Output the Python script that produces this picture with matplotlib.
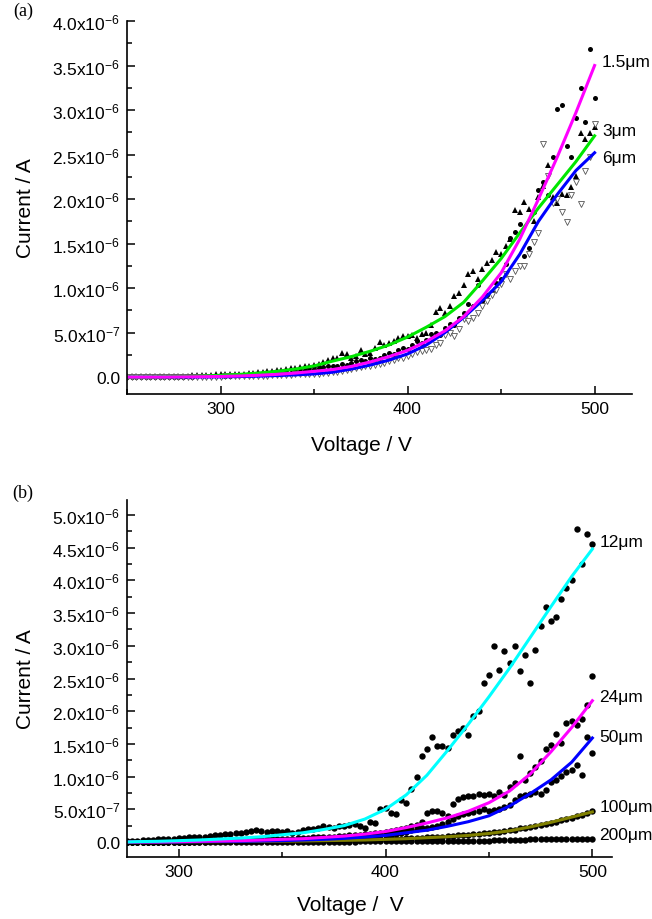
import numpy as np
import matplotlib
matplotlib.use('Agg')
import matplotlib.pyplot as plt
from matplotlib.ticker import MultipleLocator, FuncFormatter

plt.rcParams['font.family'] = ['Liberation Sans', 'DejaVu Sans']
plt.rcParams['mathtext.default'] = 'regular'

# ---- panel (a): measured current (in 1e-6 A), every 2.5 V from 250 to 500 V
volt_a = np.arange(250, 500.1, 2.5)

cur_1p5um = [
    0.00, 0.00, 0.00, 0.00, 0.00, 0.00, 0.00, 0.00, 0.00, 0.00,
    0.00, 0.00, 0.00, 0.01, 0.00, 0.01, 0.01, 0.01, 0.01, 0.01,
    0.01, 0.01, 0.01, 0.02, 0.02, 0.02, 0.02, 0.03, 0.03, 0.03,
    0.03, 0.04, 0.04, 0.05, 0.05, 0.05, 0.06, 0.07, 0.08, 0.08,
    0.09, 0.10, 0.11, 0.12, 0.12, 0.13, 0.15, 0.14, 0.16, 0.18,
    0.19, 0.18, 0.21, 0.20, 0.22, 0.25, 0.27, 0.26, 0.30, 0.33,
    0.31, 0.36, 0.40, 0.38, 0.42, 0.48, 0.50, 0.47, 0.55, 0.60,
    0.58, 0.66, 0.72, 0.82, 0.80, 1.03, 0.86, 0.92, 0.96, 1.06,
    1.10, 1.27, 1.56, 1.63, 1.72, 1.36, 1.45, 1.85, 2.10, 2.19,
    2.05, 2.47, 3.01, 3.06, 2.60, 2.47, 2.91, 3.25, 2.86, 3.69, 3.14]

cur_3um = [
    0.01, 0.01, 0.01, 0.01, 0.01, 0.01, 0.01, 0.01, 0.01, 0.01,
    0.01, 0.01, 0.01, 0.01, 0.02, 0.02, 0.02, 0.02, 0.02, 0.03,
    0.03, 0.03, 0.03, 0.04, 0.04, 0.04, 0.05, 0.05, 0.06, 0.06,
    0.07, 0.07, 0.08, 0.08, 0.09, 0.10, 0.10, 0.11, 0.12, 0.13,
    0.14, 0.15, 0.17, 0.19, 0.21, 0.22, 0.27, 0.26, 0.21, 0.24,
    0.30, 0.26, 0.27, 0.33, 0.39, 0.36, 0.38, 0.41, 0.44, 0.46,
    0.46, 0.47, 0.44, 0.48, 0.50, 0.58, 0.73, 0.78, 0.72, 0.80,
    0.91, 0.95, 1.04, 1.16, 1.19, 1.10, 1.21, 1.28, 1.32, 1.40,
    1.38, 1.47, 1.55, 1.88, 1.85, 1.97, 1.89, 1.75, 2.02, 2.15,
    2.38, 2.02, 1.96, 2.06, 2.05, 2.14, 2.26, 2.74, 2.67, 2.74, 2.81]

cur_6um = [
    0.00, 0.00, 0.00, 0.00, 0.00, 0.00, 0.00, 0.00, 0.00, 0.00,
    0.00, 0.00, 0.00, 0.00, 0.00, 0.00, 0.00, 0.00, 0.00, 0.00,
    0.00, 0.01, 0.01, 0.01, 0.01, 0.01, 0.01, 0.01, 0.01, 0.01,
    0.01, 0.02, 0.02, 0.02, 0.02, 0.02, 0.03, 0.03, 0.03, 0.04,
    0.04, 0.04, 0.05, 0.05, 0.06, 0.06, 0.07, 0.08, 0.09, 0.10,
    0.11, 0.12, 0.13, 0.14, 0.15, 0.16, 0.18, 0.19, 0.21, 0.22,
    0.24, 0.26, 0.28, 0.29, 0.30, 0.31, 0.36, 0.38, 0.47, 0.50,
    0.46, 0.54, 0.65, 0.63, 0.66, 0.72, 0.80, 0.85, 0.92, 0.98,
    1.05, 1.16, 1.10, 1.19, 1.25, 1.25, 1.38, 1.52, 1.62, 2.62,
    2.26, 1.95, 2.00, 1.85, 1.74, 2.04, 2.19, 1.94, 2.31, 2.47, 2.84]

# fitted curves (a), read every 10 V
fit_volt_a = np.arange(250, 500.1, 10)
fit_1p5um = [0.0, 0.0, 0.0, 0.002, 0.004, 0.007, 0.012, 0.02, 0.03, 0.045,
             0.065, 0.085, 0.12, 0.17, 0.23, 0.30, 0.40, 0.52, 0.68, 0.90,
             1.17, 1.55, 2.00, 2.47, 2.97, 3.50]
fit_3um = [0.0, 0.0, 0.002, 0.005, 0.01, 0.02, 0.03, 0.045, 0.065, 0.09,
           0.125, 0.18, 0.23, 0.29, 0.36, 0.45, 0.56, 0.68, 0.84, 1.08,
           1.33, 1.62, 1.90, 2.16, 2.42, 2.71]
fit_6um = [0.0, 0.0, 0.0, 0.001, 0.002, 0.003, 0.006, 0.01, 0.017, 0.025,
           0.035, 0.055, 0.09, 0.135, 0.19, 0.26, 0.36, 0.50, 0.67, 0.86,
           1.07, 1.38, 1.75, 2.05, 2.32, 2.52]

# ---- panel (b): measured current (in 1e-6 A), every 2.5 V from 275 to 500 V
volt_b = np.arange(275, 500.1, 2.5)

cur_12um = [
    0.02, 0.02, 0.02, 0.03, 0.03, 0.03, 0.04, 0.04, 0.05, 0.05,
    0.06, 0.06, 0.07, 0.07, 0.08, 0.08, 0.09, 0.10, 0.11, 0.12,
    0.12, 0.13, 0.14, 0.15, 0.17, 0.19, 0.17, 0.16, 0.17, 0.17,
    0.16, 0.17, 0.14, 0.16, 0.19, 0.20, 0.20, 0.22, 0.24, 0.23,
    0.21, 0.24, 0.25, 0.26, 0.27, 0.24, 0.21, 0.31, 0.29, 0.50,
    0.52, 0.45, 0.43, 0.64, 0.59, 0.81, 1.00, 1.31, 1.42, 1.61,
    1.47, 1.47, 1.43, 1.64, 1.69, 1.75, 1.64, 1.92, 2.01, 2.43,
    2.56, 2.99, 2.63, 2.92, 2.73, 2.99, 2.61, 2.86, 2.43, 2.93,
    3.31, 3.59, 3.38, 3.44, 3.72, 3.88, 4.01, 4.79, 4.25, 4.71, 4.56]

cur_24um = [
    0.00, 0.00, 0.00, 0.00, 0.00, 0.00, 0.01, 0.00, 0.01, 0.01,
    0.01, 0.01, 0.01, 0.01, 0.01, 0.02, 0.02, 0.02, 0.02, 0.02,
    0.02, 0.03, 0.03, 0.03, 0.03, 0.04, 0.04, 0.04, 0.04, 0.05,
    0.05, 0.05, 0.05, 0.06, 0.06, 0.06, 0.07, 0.07, 0.08, 0.08,
    0.08, 0.09, 0.09, 0.10, 0.10, 0.11, 0.12, 0.12, 0.13, 0.14,
    0.15, 0.17, 0.18, 0.20, 0.22, 0.24, 0.26, 0.30, 0.45, 0.48,
    0.47, 0.45, 0.40, 0.58, 0.66, 0.69, 0.71, 0.71, 0.73, 0.72,
    0.74, 0.70, 0.76, 0.72, 0.84, 0.90, 1.32, 0.95, 1.05, 1.15,
    1.24, 1.42, 1.48, 1.65, 1.51, 1.82, 1.85, 1.79, 1.88, 2.09, 2.54]

cur_50um = [
    0.00, 0.00, 0.00, 0.00, 0.00, 0.00, 0.00, 0.00, 0.00, 0.00,
    0.00, 0.00, 0.00, 0.01, 0.01, 0.01, 0.01, 0.01, 0.01, 0.01,
    0.01, 0.01, 0.01, 0.01, 0.02, 0.02, 0.02, 0.02, 0.02, 0.02,
    0.02, 0.02, 0.03, 0.03, 0.03, 0.03, 0.04, 0.04, 0.04, 0.05,
    0.05, 0.05, 0.06, 0.06, 0.07, 0.07, 0.08, 0.08, 0.09, 0.10,
    0.10, 0.11, 0.12, 0.13, 0.15, 0.18, 0.20, 0.22, 0.21, 0.23,
    0.24, 0.27, 0.30, 0.35, 0.40, 0.43, 0.45, 0.46, 0.48, 0.50,
    0.47, 0.49, 0.50, 0.53, 0.56, 0.64, 0.70, 0.72, 0.74, 0.76,
    0.73, 0.80, 0.91, 0.95, 1.01, 1.07, 1.10, 1.17, 1.02, 1.60, 1.36]

cur_100um = [
    0.00, 0.00, 0.00, 0.00, 0.00, 0.00, 0.00, 0.00, 0.00, 0.00,
    0.00, 0.00, 0.00, 0.00, 0.00, 0.00, 0.01, 0.01, 0.01, 0.01,
    0.01, 0.01, 0.01, 0.01, 0.01, 0.01, 0.01, 0.01, 0.01, 0.01,
    0.01, 0.01, 0.02, 0.02, 0.02, 0.02, 0.02, 0.02, 0.02, 0.03,
    0.03, 0.03, 0.03, 0.03, 0.03, 0.04, 0.04, 0.04, 0.04, 0.04,
    0.05, 0.05, 0.05, 0.05, 0.06, 0.06, 0.06, 0.06, 0.07, 0.07,
    0.08, 0.08, 0.09, 0.09, 0.10, 0.10, 0.11, 0.12, 0.12, 0.13,
    0.14, 0.15, 0.16, 0.17, 0.18, 0.19, 0.21, 0.22, 0.23, 0.25,
    0.26, 0.27, 0.29, 0.31, 0.33, 0.35, 0.37, 0.39, 0.42, 0.45, 0.47]

cur_200um = [
    0.00, 0.00, 0.00, 0.00, 0.00, 0.00, 0.00, 0.00, 0.00, 0.00,
    0.00, 0.00, 0.00, 0.00, 0.00, 0.00, 0.00, 0.00, 0.00, 0.00,
    0.00, 0.00, 0.00, 0.00, 0.00, 0.00, 0.00, 0.00, 0.00, 0.00,
    0.00, 0.00, 0.00, 0.00, 0.00, 0.00, 0.00, 0.00, 0.00, 0.00,
    0.00, 0.00, 0.00, 0.00, 0.00, 0.01, 0.01, 0.01, 0.01, 0.01,
    0.01, 0.01, 0.01, 0.01, 0.01, 0.01, 0.01, 0.01, 0.01, 0.01,
    0.01, 0.01, 0.01, 0.02, 0.02, 0.02, 0.02, 0.02, 0.02, 0.02,
    0.02, 0.03, 0.03, 0.03, 0.03, 0.03, 0.03, 0.03, 0.04, 0.04,
    0.04, 0.04, 0.04, 0.04, 0.04, 0.05, 0.05, 0.05, 0.05, 0.05, 0.05]

# fitted curves (b)
fit_volt_b = [275, 280, 290, 300, 310, 320, 330, 340, 350, 360, 370, 380,
              390, 400, 410, 420, 430, 440, 450, 460, 470, 480, 490, 500]
fit_12um = [0.0, 0.005, 0.01, 0.02, 0.03, 0.045, 0.06, 0.08, 0.11, 0.14, 0.19,
            0.25, 0.35, 0.50, 0.72, 1.02, 1.40, 1.80, 2.22, 2.66, 3.13, 3.60,
            4.06, 4.48]
fit_24um = [0.0, 0.0, 0.0, 0.005, 0.01, 0.015, 0.02, 0.03, 0.04, 0.05, 0.07,
            0.09, 0.12, 0.16, 0.22, 0.29, 0.37, 0.47, 0.60, 0.78, 1.04, 1.38,
            1.75, 2.16]
fit_50um = [0.0, 0.0, 0.0, 0.0, 0.005, 0.01, 0.01, 0.015, 0.02, 0.03, 0.04,
            0.055, 0.075, 0.10, 0.14, 0.18, 0.24, 0.31, 0.40, 0.55, 0.74, 0.95,
            1.22, 1.59]
fit_100um = [0.0, 0.0, 0.0, 0.0, 0.003, 0.005, 0.007, 0.01, 0.012, 0.015, 0.02,
             0.025, 0.03, 0.04, 0.05, 0.065, 0.08, 0.10, 0.13, 0.17, 0.23, 0.30,
             0.38, 0.46]

SCALE = 1e-6


def sci_label(v, pos):
    if abs(v) < 1e-12:
        return '0.0'
    e = int(np.floor(np.log10(abs(v)) + 1e-9))
    m = v / 10.0 ** e
    return '%.1fx10$^{%d}$' % (m, e)


def style_axes(ax):
    for side in ('top', 'right'):
        ax.spines[side].set_visible(False)
    for side in ('left', 'bottom'):
        ax.spines[side].set_linewidth(1.2)
    ax.xaxis.set_major_locator(MultipleLocator(100))
    ax.xaxis.set_minor_locator(MultipleLocator(50))
    ax.yaxis.set_major_locator(MultipleLocator(0.5e-6))
    ax.yaxis.set_minor_locator(MultipleLocator(0.25e-6))
    ax.yaxis.set_major_formatter(FuncFormatter(sci_label))
    ax.tick_params(which='major', direction='in', length=6, width=1.1,
                   labelsize=12.5, pad=5)
    ax.tick_params(which='minor', direction='in', length=3.5, width=1.1)
    ax.set_ylabel('Current / A', fontsize=15)


def scaled(vals):
    return np.array(vals) * SCALE


def main():
    fig = plt.figure(figsize=(6.52, 9.2), dpi=100)

    # ---------------- panel (a)
    ax_a = fig.add_axes([127 / 652, 1 - 395 / 920, 505 / 652, 373 / 920])
    ax_a.plot(volt_a, scaled(cur_1p5um), 'o', color='black', ms=3.6, mew=0)
    ax_a.plot(volt_a, scaled(cur_3um), '^', color='black', ms=4.2, mew=0)
    ax_a.plot(volt_a, scaled(cur_6um), 'v', mfc='white', mec='#555555',
              ms=4.6, mew=0.6)
    ax_a.plot(fit_volt_a, scaled(fit_6um), color='#0000ff', lw=2.2)
    ax_a.plot(fit_volt_a, scaled(fit_3um), color='#00e600', lw=2.2)
    ax_a.plot(fit_volt_a, scaled(fit_1p5um), color='#ff00ff', lw=2.2)
    ax_a.set_xlim(250, 520)
    ax_a.set_ylim(-0.19e-6, 4.0e-6)
    style_axes(ax_a)
    ax_a.set_xlabel('Voltage / V', fontsize=15)
    ax_a.xaxis.set_label_coords(0.465, -0.109)
    ax_a.yaxis.set_label_coords(-0.182, 0.5)

    ax_a.text(504, 3.55e-6, '1.5μm', fontsize=12.5, va='center', ha='left')
    ax_a.text(504, 2.77e-6, '3μm', fontsize=12.5, va='center', ha='left')
    ax_a.text(504, 2.47e-6, '6μm', fontsize=12.5, va='center', ha='left')

    # ---------------- panel (b)
    ax_b = fig.add_axes([127 / 652, 1 - 858 / 920, 485 / 652, 357 / 920])
    for vals in (cur_200um, cur_100um, cur_50um, cur_24um, cur_12um):
        ax_b.plot(volt_b, scaled(vals), 'o', color='black', ms=4.6, mew=0)
    ax_b.plot(fit_volt_b, scaled(fit_100um), color='#808000', lw=2.2)
    ax_b.plot(fit_volt_b, scaled(fit_50um), color='#0000ff', lw=2.2)
    ax_b.plot(fit_volt_b, scaled(fit_24um), color='#ff00ff', lw=2.2)
    ax_b.plot(fit_volt_b, scaled(fit_12um), color='#00ffff', lw=2.2)
    ax_b.set_xlim(275, 509.5)
    ax_b.set_ylim(-0.23e-6, 5.23e-6)
    style_axes(ax_b)
    ax_b.set_xlabel('Voltage /  V', fontsize=15)
    ax_b.xaxis.set_label_coords(0.46, -0.106)
    ax_b.yaxis.set_label_coords(-0.19, 0.5)

    ax_b.text(503.4, 4.60e-6, '12μm', fontsize=12.5, va='center', ha='left')
    ax_b.text(503.4, 2.22e-6, '24μm', fontsize=12.5, va='center', ha='left')
    ax_b.text(503.4, 1.62e-6, '50μm', fontsize=12.5, va='center', ha='left')
    ax_b.text(503.4, 0.535e-6, '100μm', fontsize=12.5, va='center', ha='left')
    ax_b.text(503.4, 0.12e-6, '200μm', fontsize=12.5, va='center', ha='left')

    # panel letters
    fig.text(23 / 652, 1 - 11 / 920, '(a)', fontsize=13, ha='center',
             va='center', family=['Liberation Serif', 'DejaVu Serif'])
    fig.text(23 / 652, 1 - 493 / 920, '(b)', fontsize=13, ha='center',
             va='center', family=['Liberation Serif', 'DejaVu Serif'])

    fig.savefig('out.png', dpi=100)


if __name__ == "__main__":
    main()
